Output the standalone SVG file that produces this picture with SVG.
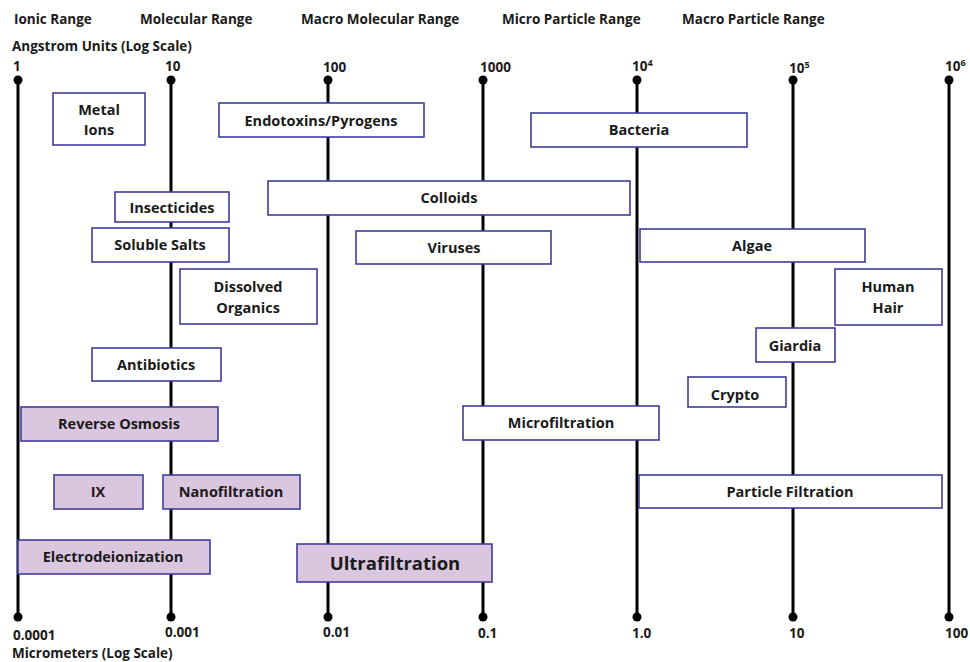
<svg xmlns="http://www.w3.org/2000/svg" width="970" height="662" viewBox="0 0 970 662">
<style>
text{font-family:"Open Sans","Liberation Sans",sans-serif;font-weight:bold;fill:#1a1a1a}
.h{font-size:13.5px}
.lb{font-size:14.5px;text-anchor:middle}
.b{fill:#fff;stroke:#3f3d99;stroke-width:1.6}
.p{fill:#dbc6e0;stroke:#3f3d99;stroke-width:1.6}
.ax{stroke:#000;stroke-width:3}
.dot{fill:#000}
</style>
<rect width="970" height="662" fill="#fff"/>
<g id="headers">
<text class="h" x="14" y="24">Ionic Range</text>
<text class="h" x="140" y="24">Molecular Range</text>
<text class="h" x="301" y="24">Macro Molecular Range</text>
<text class="h" x="502" y="24">Micro Particle Range</text>
<text class="h" x="682" y="24">Macro Particle Range</text>
<text class="h" x="12" y="51">Angstrom Units (Log Scale)</text>
<text class="h" x="13" y="71">1</text>
<text class="h" x="165" y="71">10</text>
<text class="h" x="323" y="72">100</text>
<text class="h" x="480" y="72">1000</text>
<text class="h" x="632" y="71">10<tspan font-size="9" dy="-5">4</tspan></text>
<text class="h" x="789" y="73">10<tspan font-size="9" dy="-5">5</tspan></text>
<text class="h" x="945" y="71">10<tspan font-size="9" dy="-5">6</tspan></text>
<text class="h" x="13" y="640">0.0001</text>
<text class="h" x="165" y="637">0.001</text>
<text class="h" x="323" y="637">0.01</text>
<text class="h" x="478" y="638">0.1</text>
<text class="h" x="632" y="638">1.0</text>
<text class="h" x="789" y="638">10</text>
<text class="h" x="945" y="638">100</text>
<text class="h" x="12" y="658">Micrometers (Log Scale)</text>
</g>
<g id="connectors">
<line class="ax" x1="18" y1="80" x2="18" y2="617"/>
<line class="ax" x1="171" y1="80" x2="171" y2="617"/>
<line class="ax" x1="328" y1="80" x2="328" y2="617"/>
<line class="ax" x1="483" y1="80" x2="483" y2="617"/>
<line class="ax" x1="637" y1="80" x2="637" y2="617"/>
<line class="ax" x1="793" y1="80" x2="793" y2="617"/>
<line class="ax" x1="949" y1="80" x2="949" y2="617"/>
<circle class="dot" cx="18" cy="80" r="4.5"/><circle class="dot" cx="18" cy="617" r="4.5"/>
<circle class="dot" cx="171" cy="80" r="4.5"/><circle class="dot" cx="171" cy="617" r="4.5"/>
<circle class="dot" cx="328" cy="80" r="4.5"/><circle class="dot" cx="328" cy="617" r="4.5"/>
<circle class="dot" cx="483" cy="80" r="4.5"/><circle class="dot" cx="483" cy="617" r="4.5"/>
<circle class="dot" cx="637" cy="80" r="4.5"/><circle class="dot" cx="637" cy="617" r="4.5"/>
<circle class="dot" cx="793" cy="80" r="4.5"/><circle class="dot" cx="793" cy="617" r="4.5"/>
<circle class="dot" cx="949" cy="80" r="4.5"/><circle class="dot" cx="949" cy="617" r="4.5"/>
</g>
<g id="metal-ions"><rect class="b" x="53" y="93" width="92" height="52"/><text class="lb" x="99" y="115">Metal</text><text class="lb" x="99" y="135">Ions</text></g>
<g id="endotoxins"><rect class="b" x="219" y="103" width="205" height="34"/><text class="lb" x="321" y="126">Endotoxins/Pyrogens</text></g>
<g id="bacteria"><rect class="b" x="531" y="113" width="216" height="34"/><text class="lb" x="639" y="135">Bacteria</text></g>
<g id="insecticides"><rect class="b" x="115" y="192" width="114" height="30"/><text class="lb" x="172" y="213">Insecticides</text></g>
<g id="colloids"><rect class="b" x="268" y="181" width="362" height="34"/><text class="lb" x="449" y="203">Colloids</text></g>
<g id="soluble-salts"><rect class="b" x="92" y="228" width="137" height="34"/><text class="lb" x="160" y="250">Soluble Salts</text></g>
<g id="viruses"><rect class="b" x="356" y="231" width="195" height="33"/><text class="lb" x="454" y="253">Viruses</text></g>
<g id="algae"><rect class="b" x="640" y="229" width="225" height="33"/><text class="lb" x="752" y="251">Algae</text></g>
<g id="dissolved-organics"><rect class="b" x="180" y="269" width="137" height="55"/><text class="lb" x="248" y="292">Dissolved</text><text class="lb" x="248" y="313">Organics</text></g>
<g id="human-hair"><rect class="b" x="835" y="269" width="107" height="56"/><text class="lb" x="888" y="292">Human</text><text class="lb" x="888" y="313">Hair</text></g>
<g id="giardia"><rect class="b" x="756" y="328" width="79" height="34"/><text class="lb" x="795" y="351">Giardia</text></g>
<g id="antibiotics"><rect class="b" x="92" y="348" width="129" height="33"/><text class="lb" x="156" y="370">Antibiotics</text></g>
<g id="crypto"><rect class="b" x="688" y="377" width="98" height="30"/><text class="lb" x="735" y="400">Crypto</text></g>
<g id="reverse-osmosis"><rect class="p" x="21" y="407" width="197" height="34"/><text class="lb" x="119" y="429">Reverse Osmosis</text></g>
<g id="microfiltration"><rect class="b" x="463" y="406" width="196" height="34"/><text class="lb" x="561" y="428">Microfiltration</text></g>
<g id="ix"><rect class="p" x="54" y="475" width="89" height="34"/><text class="lb" x="98" y="497">IX</text></g>
<g id="nanofiltration"><rect class="p" x="163" y="475" width="137" height="34"/><text class="lb" x="231" y="497">Nanofiltration</text></g>
<g id="particle-filtration"><rect class="b" x="639" y="475" width="303" height="33"/><text class="lb" x="790" y="497">Particle Filtration</text></g>
<g id="electrodeionization"><rect class="p" x="18" y="540" width="192" height="34"/><text class="lb" x="113" y="562">Electrodeionization</text></g>
<g id="ultrafiltration"><rect class="p" x="297" y="544" width="195" height="38"/><text class="lb" x="395" y="570" style="font-size:18.5px">Ultrafiltration</text></g>
</svg>
